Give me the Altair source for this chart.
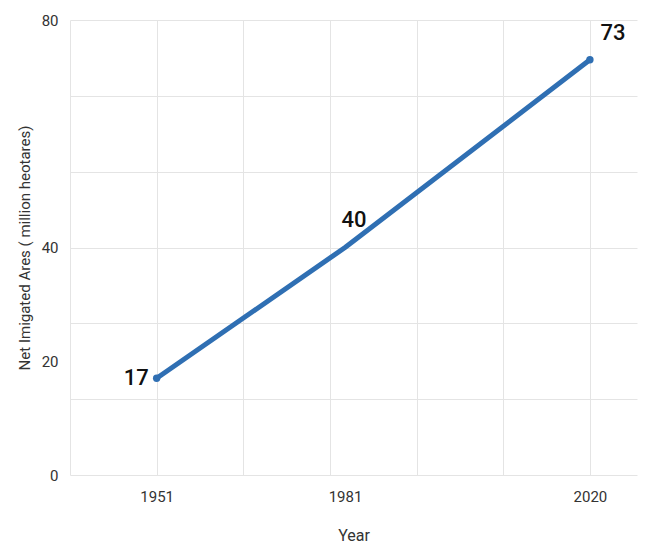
import altair as alt
import pandas as pd

# Net irrigated area by year
years = [1951, 1981, 2020]
area = [17, 40, 73]

# Axis label values
x_label_years = [1951, 1981, 2020]
y_label_values = [0, 20, 40, 80]

df = pd.DataFrame({"year": years, "area": area})

FONT = "Roboto"
BLUE = "#2f6fb3"
GRID = "#e4e4e4"
TEXT = "#333333"

# Grid: 5 equal steps between the first and last year, one extra step on the left
step = (2020 - 1951) / 5
x_grid = [round(1951 + i * step, 4) for i in range(-1, 6)]
x_domain = [x_grid[0], 2027.5]
y_grid = [round(i * 80 / 6, 4) for i in range(7)]

x_vals = sorted(set(x_grid + x_label_years))
y_vals = sorted(set(y_grid + y_label_values))


def in_list(vals):
    return "indexof([" + ",".join(str(v) for v in vals) + "], datum.value) >= 0"


def not_grid(vals):
    return "indexof([" + ",".join(str(v) for v in vals) + "], datum.value) < 0"


x_axis = alt.Axis(
    values=x_vals,
    format="d",
    labelExpr=f"{in_list(x_label_years)} ? datum.label : ''",
    gridOpacity={"condition": {"test": not_grid(x_grid), "value": 0}, "value": 1},
    grid=True,
    gridColor=GRID,
    ticks=False,
    domain=False,
    labelPadding=14,
    labelFontSize=15,
    labelColor=TEXT,
    labelFont=FONT,
    labelOverlap=False,
    labelFlush=False,
    title="Year",
    titleFont=FONT,
    titleFontSize=16,
    titleFontWeight="normal",
    titleColor=TEXT,
    titleY=52,
)

y_axis = alt.Axis(
    values=y_vals,
    format="d",
    labelExpr=f"{in_list(y_label_values)} ? datum.label : ''",
    gridOpacity={"condition": {"test": not_grid(y_grid), "value": 0}, "value": 1},
    grid=True,
    gridColor=GRID,
    ticks=False,
    domain=False,
    labelPadding=12,
    labelFontSize=15,
    labelColor=TEXT,
    labelFont=FONT,
    labelOverlap=False,
    labelFlush=False,
    title="Net Imigated Ares ( million heotares)",
    titleFont=FONT,
    titleFontSize=15,
    titleFontWeight="normal",
    titleColor=TEXT,
    titleX=-38,
)

x_enc = alt.X("year:Q", scale=alt.Scale(domain=x_domain, nice=False, zero=False), axis=x_axis)
y_enc = alt.Y("area:Q", scale=alt.Scale(domain=[0, 80], nice=False), axis=y_axis)

base = alt.Chart(df).encode(x=x_enc, y=y_enc)

line = base.mark_line(color=BLUE, strokeWidth=5, strokeCap="round", strokeJoin="round")

dots = base.mark_circle(color=BLUE, size=55, opacity=1).transform_filter(
    "datum.year == 1951 || datum.year == 2020"
)


def value_label(year, **kw):
    return (
        base.transform_filter(f"datum.year == {year}")
        .mark_text(font=FONT, fontSize=22, fontWeight=500, color="#111111", baseline="middle", **kw)
        .encode(text=alt.Text("area:Q", format="d"))
    )


labels = (
    value_label(1951, align="right", dx=-8, dy=0)
    + value_label(1981, align="center", dx=9, dy=-28)
    + value_label(2020, align="center", dx=23, dy=-27)
)

chart = (
    alt.layer(line, dots, labels)
    .properties(
        width=567,
        height=455,
        autosize=alt.AutoSizeParams(type="none"),
        padding={"left": 70, "top": 20, "right": 13, "bottom": 69},
        background="white",
    )
    .configure_view(stroke=None)
)

chart.save("out.html", embed_options={"renderer": "svg", "actions": False})
